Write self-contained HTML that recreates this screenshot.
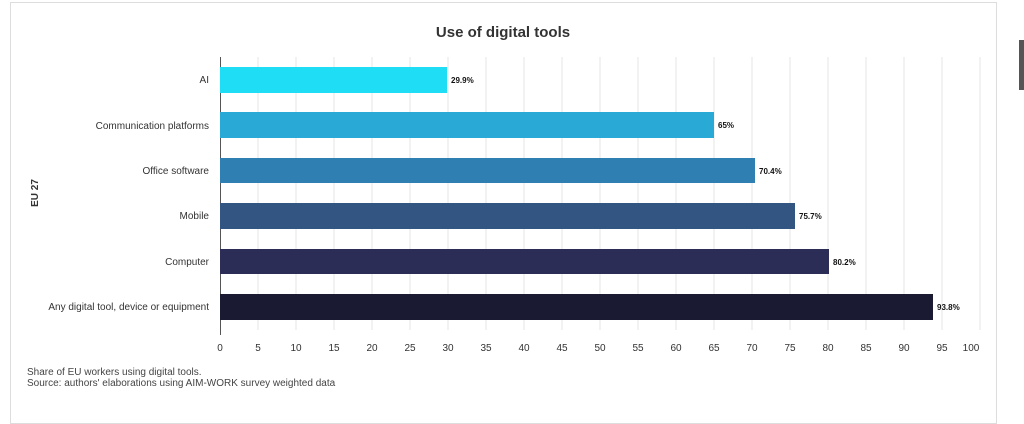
<!DOCTYPE html>
<html><head><style>
body{margin:0;width:1024px;height:417px;background:#fff;overflow:hidden;font-family:"Liberation Sans",sans-serif;}
</style></head><body>
<div style="position:absolute;left:10px;top:2px;width:985px;height:420px;border:1px solid #ddd;"></div>
<div style="position:absolute;left:1019px;top:40px;width:5px;height:50px;background:#555;"></div>
<svg width="1024" height="417" style="position:absolute;left:0;top:0" font-family="Liberation Sans, sans-serif">
<text x="503" y="37" text-anchor="middle" font-size="15" font-weight="bold" fill="#333">Use of digital tools</text>
<g stroke="#e6e6e6" stroke-width="1">
<line x1="258" y1="57" x2="258" y2="330"/><line x1="296" y1="57" x2="296" y2="330"/><line x1="334" y1="57" x2="334" y2="330"/><line x1="372" y1="57" x2="372" y2="330"/><line x1="410" y1="57" x2="410" y2="330"/><line x1="448" y1="57" x2="448" y2="330"/><line x1="486" y1="57" x2="486" y2="330"/><line x1="524" y1="57" x2="524" y2="330"/><line x1="562" y1="57" x2="562" y2="330"/><line x1="600" y1="57" x2="600" y2="330"/><line x1="638" y1="57" x2="638" y2="330"/><line x1="676" y1="57" x2="676" y2="330"/><line x1="714" y1="57" x2="714" y2="330"/><line x1="752" y1="57" x2="752" y2="330"/><line x1="790" y1="57" x2="790" y2="330"/><line x1="828" y1="57" x2="828" y2="330"/><line x1="866" y1="57" x2="866" y2="330"/><line x1="904" y1="57" x2="904" y2="330"/><line x1="942" y1="57" x2="942" y2="330"/><line x1="980" y1="57" x2="980" y2="330"/>
</g>
<line x1="220.5" y1="57" x2="220.5" y2="335" stroke="#555"/>
<rect x="220" y="67" width="227" height="26" fill="#1fddf4"/>
<rect x="220" y="112" width="494" height="26" fill="#29a9d6"/>
<rect x="220" y="158" width="535" height="25" fill="#2f7fb3"/>
<rect x="220" y="203" width="575" height="26" fill="#325582"/>
<rect x="220" y="249" width="609" height="25" fill="#2b2d56"/>
<rect x="220" y="294" width="713" height="26" fill="#1b1a33"/>
<g font-size="8" font-weight="bold" fill="#111">
<text x="451" y="83">29.9%</text><text x="718" y="128">65%</text><text x="759" y="174">70.4%</text><text x="799" y="219">75.7%</text><text x="833" y="265">80.2%</text><text x="937" y="310">93.8%</text>
</g>
<g font-size="10" fill="#333" text-anchor="end">
<text x="209" y="83">AI</text><text x="209" y="129">Communication platforms</text><text x="209" y="174">Office software</text><text x="209" y="219">Mobile</text><text x="209" y="265">Computer</text><text x="209" y="310">Any digital tool, device or equipment</text>
</g>
<text transform="translate(38,193) rotate(-90)" text-anchor="middle" font-size="10" font-weight="bold" fill="#333">EU 27</text>
<g font-size="10" fill="#333" text-anchor="middle">
<text x="220" y="351">0</text><text x="258" y="351">5</text><text x="296" y="351">10</text><text x="334" y="351">15</text><text x="372" y="351">20</text><text x="410" y="351">25</text><text x="448" y="351">30</text><text x="486" y="351">35</text><text x="524" y="351">40</text><text x="562" y="351">45</text><text x="600" y="351">50</text><text x="638" y="351">55</text><text x="676" y="351">60</text><text x="714" y="351">65</text><text x="752" y="351">70</text><text x="790" y="351">75</text><text x="828" y="351">80</text><text x="866" y="351">85</text><text x="904" y="351">90</text><text x="942" y="351">95</text><text x="971" y="351">100</text>
</g>
<g font-size="10" fill="#444">
<text x="27" y="375">Share of EU workers using digital tools.</text>
<text x="27" y="386">Source: authors' elaborations using AIM-WORK survey weighted data</text>
</g>
</svg>
</body></html>
